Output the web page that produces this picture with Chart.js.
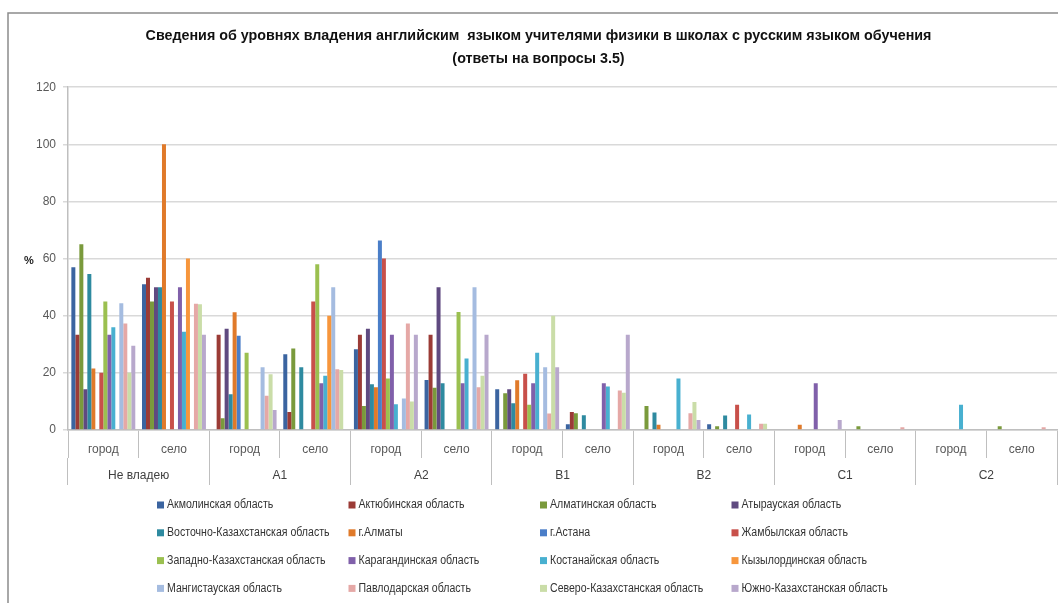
<!DOCTYPE html>
<html>
<head>
<meta charset="utf-8">
<script src="https://cdn.jsdelivr.net/npm/chart.js@4/dist/chart.umd.min.js"></script>
<style>
  html, body { margin: 0; padding: 0; background: #fff; }
</style>
</head>
<body>
<canvas id="chart" width="1058" height="603"></canvas>
<script>
// categories: город / село inside every level
const categories = ['город', 'село', 'город', 'село', 'город', 'село', 'город', 'село',
                    'город', 'село', 'город', 'село', 'город', 'село'];
const levels = ['Не владею', 'A1', 'A2', 'B1', 'B2', 'C1', 'C2'];
const yTicks = [0, 20, 40, 60, 80, 100, 120];

// values in %
const akmola      = [57, 51, 0, 26.5, 28.3, 17.5, 14.3, 2, 0, 2, 0, 0, 0, 0];
const aktobe      = [33.3, 53.3, 33.3, 6.3, 33.3, 33.3, 0, 6.3, 0, 0, 0, 0, 0, 0];
const almatyObl   = [65, 45, 4.1, 28.5, 8.4, 14.8, 12.9, 5.9, 8.4, 1.3, 0, 1.3, 0, 1.3];
const atyrau      = [14.3, 50, 35.4, 0, 35.4, 50, 14.3, 0, 0, 0, 0, 0, 0, 0];
const vko         = [54.6, 50, 12.5, 22, 16, 16.4, 9.4, 5.2, 6.1, 5.1, 0, 0, 0, 0];
const almatyCity  = [21.5, 100, 41.2, 0, 15, 0, 17.4, 0, 1.8, 0, 1.8, 0, 0, 0];
const astana      = [0, 0, 33, 0, 66.3, 0, 0, 0, 0, 0, 0, 0, 0, 0];
const zhambyl     = [20, 45, 0, 45, 60, 0, 19.7, 0, 0, 8.8, 0, 0, 0, 0];
const zko         = [45, 0, 27, 58, 18, 41.3, 8.8, 0, 0, 0, 0, 0, 0, 0];
const karaganda   = [33.3, 50, 0, 16.4, 33.3, 16.4, 16.4, 16.4, 0, 0, 16.4, 0, 0, 0];
const kostanay    = [36, 34.4, 0, 19, 9, 25, 27, 15.2, 18, 5.4, 0, 0, 8.8, 0];
const kyzylorda   = [0, 60, 0, 40, 0, 0, 0, 0, 0, 0, 0, 0, 0, 0];
const mangystau   = [44.4, 0, 22, 50, 11, 50, 22, 0, 0, 0, 0, 0, 0, 0];
const pavlodar    = [37.3, 44.2, 12, 21.3, 37.3, 15, 5.8, 13.8, 5.9, 2.2, 0, 1, 0, 1];
const sko         = [20, 44, 19.5, 21, 10, 19, 40, 13, 9.8, 2.2, 0, 0, 0, 0];
const yuko        = [29.5, 33.3, 7, 0, 33.3, 33.3, 22, 33.3, 3.5, 0, 3.5, 0, 0, 0];

const seriesNames = ['Акмолинская область', 'Актюбинская область', 'Алматинская область', 'Атырауская область',
  'Восточно-Казахстанская область', 'г.Алматы', 'г.Астана', 'Жамбылская область',
  'Западно-Казахстанская область', 'Карагандинская область', 'Костанайская область', 'Кызылординская область',
  'Мангистауская область', 'Павлодарская область', 'Северо-Казахстанская область', 'Южно-Казахстанская область'];
const seriesData = [akmola, aktobe, almatyObl, atyrau, vko, almatyCity, astana, zhambyl,
  zko, karaganda, kostanay, kyzylorda, mangystau, pavlodar, sko, yuko];
const colors = ['#3b64a0', '#9b3b36', '#7a9a3c', '#5f4a80', '#2e8aa0', '#e07a2a', '#4a7ec8', '#c8504a',
  '#9bc050', '#8060aa', '#48b0d0', '#f7963c', '#a5bce0', '#e5a8a6', '#cadda8', '#b8a8cc'];

const FONT = "'Liberation Sans Narrow', 'Liberation Sans', sans-serif";
Chart.defaults.font.family = FONT;

// frame, % label and the legend grid
const extras = {
  id: 'extras',
  beforeDraw(chart) {
    const c = chart.ctx;
    c.save();
    c.fillStyle = '#fff';
    c.fillRect(0, 0, chart.width, chart.height);
    c.strokeStyle = '#8c8c8c';
    c.lineWidth = 1.5;
    c.beginPath();
    c.moveTo(8, 603);
    c.lineTo(8, 13);
    c.lineTo(1058, 13);
    c.stroke();
    c.restore();
  },
  afterDraw(chart) {
    const c = chart.ctx;
    c.save();
    c.font = 'bold 11px ' + FONT;
    c.fillStyle = '#222';
    c.textAlign = 'center';
    c.textBaseline = 'middle';
    c.fillText('%', 29, chart.scales.y.getPixelForValue(60) + 2);

    c.font = '12px ' + FONT;
    c.textAlign = 'left';
    chart.data.datasets.forEach((ds, i) => {
      const x = 157 + (i % 4) * 191.5;
      const y = 505 + Math.floor(i / 4) * 27.8;
      c.fillStyle = ds.backgroundColor;
      c.fillRect(x, y - 3.5, 7, 7);
      c.fillStyle = '#333';
      // the original uses a narrow face, so squeeze the text a little
      c.save();
      c.translate(x + 10, y);
      c.scale(0.88, 1);
      c.fillText(ds.label, 0, 0);
      c.restore();
    });
    c.restore();
  }
};

new Chart(document.getElementById('chart'), {
  type: 'bar',
  data: {
    labels: categories,
    datasets: seriesNames.map((name, i) => ({
      label: name,
      data: seriesData[i],
      backgroundColor: colors[i],
      borderWidth: 0,
      categoryPercentage: 0.905,
      barPercentage: 1.0
    }))
  },
  options: {
    responsive: false,
    animation: false,
    layout: { padding: { left: 20, right: 1, top: 0, bottom: 118 } },
    plugins: {
      legend: { display: false },
      tooltip: { enabled: false },
      title: {
        display: true,
        text: ['Сведения об уровнях владения английским  языком учителями физики в школах с русским языком обучения',
               '(ответы на вопросы 3.5)'],
        color: '#111',
        font: { size: 14.3, weight: 'bold', lineHeight: 1.65 },
        padding: { top: 24, bottom: 16 }
      }
    },
    scales: {
      x: {
        weight: 0,
        grid: { display: true, drawOnChartArea: false, drawTicks: true, tickLength: 28, offset: true, color: '#bfbfbf', lineWidth: 1 },
        border: { display: true, color: '#bfbfbf', width: 1.5 },
        ticks: { color: '#595959', font: { size: 12 }, padding: -16, autoSkip: false, maxRotation: 0 },
        afterFit(scale) { scale.height = 28; }
      },
      x2: {
        type: 'category',
        labels: levels,
        position: 'bottom',
        offset: true,
        weight: 1,
        grid: { display: true, drawOnChartArea: false, drawTicks: true, tickLength: 27, offset: true, color: '#bfbfbf', lineWidth: 1 },
        border: { display: false },
        ticks: { color: '#404040', font: { size: 12 }, padding: -17, autoSkip: false, maxRotation: 0 },
        afterFit(scale) { scale.height = 27; }
      },
      y: {
        min: 0,
        max: 120,
        afterBuildTicks(scale) { scale.ticks = yTicks.map(v => ({ value: v })); },
        grid: { color: '#d9d9d9', lineWidth: 1.5, drawTicks: true, tickLength: 5 },
        border: { display: true, color: '#bfbfbf', width: 1.5 },
        ticks: { color: '#595959', font: { size: 12 }, padding: 7 },
        afterFit(scale) { scale.width = 48; }
      }
    }
  },
  plugins: [extras]
});
</script>
</body>
</html>
